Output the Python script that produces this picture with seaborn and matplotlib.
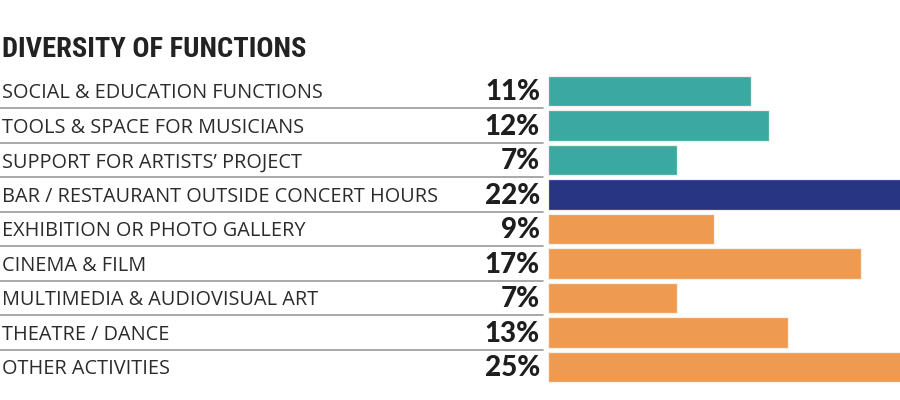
import matplotlib
matplotlib.use("Agg")
import matplotlib.pyplot as plt
import seaborn as sns
import pandas as pd

title = "DIVERSITY OF FUNCTIONS"
categories = [
    "SOCIAL & EDUCATION FUNCTIONS",
    "TOOLS & SPACE FOR MUSICIANS",
    "SUPPORT FOR ARTISTS\u2019 PROJECT",
    "BAR / RESTAURANT OUTSIDE CONCERT HOURS",
    "EXHIBITION OR PHOTO GALLERY",
    "CINEMA & FILM",
    "MULTIMEDIA & AUDIOVISUAL ART",
    "THEATRE / DANCE",
    "OTHER ACTIVITIES",
]
values = [11, 12, 7, 22, 9, 17, 7, 13, 25]
groups = ["musicians", "musicians", "musicians", "bar",
          "other", "other", "other", "other", "other"]
group_colors = {"musicians": "#3ba9a1", "bar": "#283582", "other": "#ee9a50"}

df = pd.DataFrame({"category": categories, "value": values, "group": groups})

sns.set_theme(style="white")
plt.rcParams["font.family"] = ["Open Sans", "DejaVu Sans"]

W, H = 900, 400
fig = plt.figure(figsize=(W / 100, H / 100), dpi=100)
fig.patch.set_facecolor("white")

left_px, right_px = 548, 900
top_px, bottom_px = 73.75, 384.25
ax = fig.add_axes([left_px / W, (H - bottom_px) / H,
                   (right_px - left_px) / W, (bottom_px - top_px) / H])

sns.barplot(data=df, x="value", y="category", hue="group",
            palette=group_colors, saturation=1, orient="h", width=0.87,
            edgecolor="#f5f1e8", linewidth=0.9, legend=False, ax=ax,
            dodge=False)

ax.set_xlim(0, (right_px - left_px) / 18.44)
ax.set_ylim(len(categories) - 0.5, -0.5)
ax.axis("off")

ytr = ax.get_yaxis_transform()
axw = right_px - left_px


def axx(px):
    return (px - left_px) / axw


for i, (cat, v) in enumerate(zip(categories, values)):
    ax.text(axx(2), i + 0.07, cat, transform=ytr, ha="left", va="center",
            fontsize=14.3, color="#2b2b2b", fontweight="normal",
            clip_on=False)
    ax.text(axx(540), i + 0.04, f"{v}%", transform=ytr, ha="right",
            va="center", fontsize=20, color="#1e1e1e", fontweight="black",
            family=["Lato", "DejaVu Sans"], clip_on=False)
    if i < len(categories) - 1:
        ax.plot([axx(0), axx(543)], [i + 0.5, i + 0.5], transform=ytr,
                color="#9a9a9a", lw=1.2, clip_on=False)

fig.text(2 / W, (H - 57) / H, title, ha="left", va="baseline",
         fontsize=20.5, fontweight="bold", color="#222222",
         family=["Roboto Condensed", "Roboto", "DejaVu Sans"])

fig.savefig("out.png", dpi=100, facecolor="white")
